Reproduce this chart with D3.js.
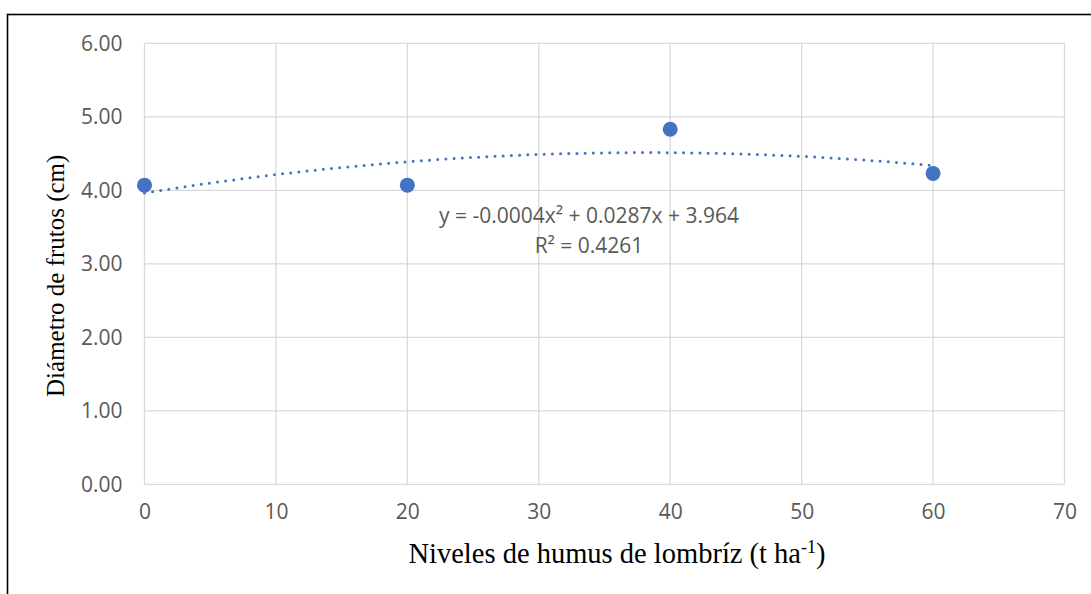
<!DOCTYPE html>
<html>
<head>
<meta charset="utf-8">
<script src="https://cdn.jsdelivr.net/npm/d3@7"></script>
<style>
  html, body { margin: 0; padding: 0; background: #fff; }
  svg { display: block; }
</style>
</head>
<body>
<svg id="chart" width="1091" height="594"></svg>
<script>
'use strict';

// values
const humusLevels = [0, 20, 40, 60];
const fruitDiameter = [4.07, 4.07, 4.83, 4.23];
const xTicks = [0, 10, 20, 30, 40, 50, 60, 70];
const yTicks = [0, 1, 2, 3, 4, 5, 6];
const equationLabel = 'y = -0.0004x² + 0.0287x + 3.964';
const rSquaredLabel = 'R² = 0.4261';

let svg = d3.select('#chart');
let margin = { left: 144.5, right: 1091 - 1064.5, top: 43.3, bottom: 594 - 484.3 };
let width = +svg.attr('width');
let height = +svg.attr('height');

let x = d3.scaleLinear().domain([0, 70]).range([margin.left, width - margin.right]);
let y = d3.scaleLinear().domain([0, 6]).range([height - margin.bottom, margin.top]);

// outer frame (right and bottom edges fall outside the picture)
svg.append('rect')
    .attr('x', 7.5).attr('y', 14.5)
    .attr('width', 1200).attr('height', 700)
    .attr('fill', 'none')
    .attr('stroke', '#000')
    .attr('stroke-width', 1.6);

let grid = svg.append('g').attr('class', 'grid');
grid.selectAll('line.h')
    .data(yTicks)
    .enter().append('line')
    .attr('class', 'h')
    .attr('x1', x(0)).attr('x2', x(70))
    .attr('y1', d => y(d)).attr('y2', d => y(d))
    .attr('stroke', '#d9d9d9')
    .attr('stroke-width', 1.3);
grid.selectAll('line.v')
    .data(xTicks)
    .enter().append('line')
    .attr('class', 'v')
    .attr('x1', d => x(d)).attr('x2', d => x(d))
    .attr('y1', y(0)).attr('y2', y(6))
    .attr('stroke', '#d9d9d9')
    .attr('stroke-width', 1.3);

// axes, only their labels are visible
let xAxis = svg.append('g')
    .attr('transform', 'translate(0,' + y(0) + ')')
    .call(d3.axisBottom(x).tickValues(xTicks).tickSize(0).tickPadding(20));
let yAxis = svg.append('g')
    .attr('transform', 'translate(' + x(0) + ',0)')
    .call(d3.axisLeft(y).tickValues(yTicks).tickSize(0).tickPadding(22).tickFormat(d3.format('.2f')));
[xAxis, yAxis].forEach(g => {
    g.select('.domain').remove();
    g.selectAll('text')
        .attr('fill', '#595959')
        .style('font-family', '"Open Sans", sans-serif')
        .style('font-size', '21px');
});

// least squares quadratic through the points (Excel polynomial trendline, order 2)
function quadFit(xs, ys) {
    let s = [0, 0, 0, 0, 0], t = [0, 0, 0];
    xs.forEach((xv, i) => {
        for (let k = 0; k < 5; k++) s[k] += Math.pow(xv, k);
        for (let k = 0; k < 3; k++) t[k] += Math.pow(xv, k) * ys[i];
    });
    let m = [[s[0], s[1], s[2], t[0]], [s[1], s[2], s[3], t[1]], [s[2], s[3], s[4], t[2]]];
    for (let i = 0; i < 3; i++) {
        for (let j = i + 1; j < 3; j++) {
            let f = m[j][i] / m[i][i];
            for (let k = i; k < 4; k++) m[j][k] -= f * m[i][k];
        }
    }
    let c = [0, 0, 0];
    for (let i = 2; i >= 0; i--) {
        let v = m[i][3];
        for (let k = i + 1; k < 3; k++) v -= m[i][k] * c[k];
        c[i] = v / m[i][i];
    }
    return c;
}
let coef = quadFit(humusLevels, fruitDiameter);
let trendX = d3.range(0, 60.01, 0.5);
let trendLine = d3.line()
    .x(d => x(d))
    .y(d => y(coef[0] + coef[1] * d + coef[2] * d * d));

svg.append('path')
    .datum(trendX)
    .attr('d', trendLine)
    .attr('fill', 'none')
    .attr('stroke', '#4472c4')
    .attr('stroke-width', 3)
    .attr('stroke-linecap', 'round')
    .attr('stroke-dasharray', '0 8.2');

svg.append('g')
    .selectAll('circle')
    .data(humusLevels)
    .enter().append('circle')
    .attr('cx', d => x(d))
    .attr('cy', (d, i) => y(fruitDiameter[i]))
    .attr('r', 7.5)
    .attr('fill', '#4472c4');

// trendline label
let eq = svg.append('g')
    .attr('fill', '#595959')
    .style('font-family', '"Open Sans", sans-serif')
    .style('font-size', '21px')
    .attr('text-anchor', 'middle');
eq.append('text').attr('x', 589).attr('y', 223).text(equationLabel);
eq.append('text').attr('x', 589).attr('y', 253).text(rSquaredLabel);

// axis titles
svg.append('text')
    .attr('x', 617).attr('y', 563)
    .attr('text-anchor', 'middle')
    .style('font-family', '"Liberation Serif", "Times New Roman", serif')
    .style('font-size', '28.5px')
    .attr('fill', '#000')
    .call(t => {
        t.append('tspan').text('Niveles de humus de lombríz (t ha');
        t.append('tspan').attr('dy', -10).style('font-size', '18px').text('-1');
        t.append('tspan').attr('dy', 10).text(')');
    });

svg.append('text')
    .attr('transform', 'translate(64,' + (y(3) + 12) + ') rotate(-90)')
    .attr('text-anchor', 'middle')
    .style('font-family', '"Liberation Serif", "Times New Roman", serif')
    .style('font-size', '25px')
    .attr('fill', '#000')
    .text('Diámetro de frutos (cm)');
</script>
</body>
</html>
